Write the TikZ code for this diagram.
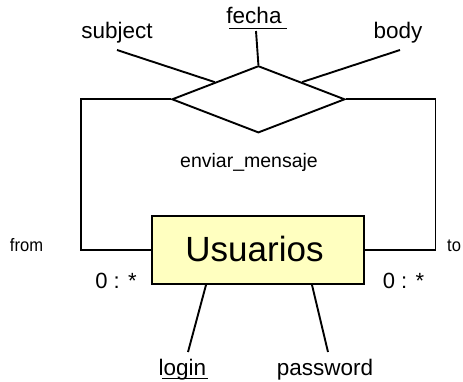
\documentclass[tikz,border=0pt]{standalone}
\usepackage{fontspec}
\setmainfont{Liberation Sans}
\newfontfamily\rolefont[FakeStretch=0.92]{Liberation Sans}
\usetikzlibrary{shapes.geometric}
\begin{document}
\begin{tikzpicture}[x=1pt,y=-1pt,
  line/.style={line width=1.9pt, black},
  attr/.style={inner sep=0pt, anchor=base, font=\fontsize{22.5}{25}\selectfont},
  role/.style={inner sep=0pt, anchor=base, font=\rolefont\fontsize{18}{20}\selectfont},
  card/.style={inner sep=0pt, anchor=base, font=\fontsize{22}{25}\selectfont},
  relation/.style={diamond, draw, line width=1.9pt, inner sep=0pt,
    minimum width=173pt, minimum height=67pt, aspect=2.58},
  entity/.style={rectangle, draw, line width=1.9pt, fill={rgb,255:red,255;green,255;blue,192},
    minimum width=212pt, minimum height=68pt, inner sep=0pt}]
\useasboundingbox (0,0) rectangle (463,381);

% relationship and entity
\node[relation] (rel) at (258.4,99.3) {};
\node[entity] (usr) at (258,250) {};
\node[inner sep=0pt, anchor=base, font=\fontsize{35}{40}\selectfont] (usrlabel) at (254.5,261.5) {Usuarios};
\node[inner sep=0pt, anchor=base, font=\fontsize{19.5}{22}\selectfont] (relname) at (249,167) {enviar\_mensaje};

% attributes of the relationship
\node[attr] (subject) at (117,38.5) {subject};
\node[attr] (fecha) at (254,23) {fecha};
\node[attr] (body) at (398,38.5) {body};
\coordinate (subjectend) at (117,50);
\coordinate (bodyend) at (400,50);
\coordinate (fechaend) at (256,31);
\draw[line] (subjectend) -- (rel.north west);
\draw[line] (bodyend) -- (rel.north east);
\draw[line] (fechaend) -- (rel.north);
\draw[line width=1pt] (229,28) -- (287,28);

% roles from / to
\draw[line] (rel.west) -- ++(-89.7,0) coordinate (lc) |- (usr.west);
\draw[line] (rel.east) -- ++(89.6,0) coordinate (rc) |- (usr.east);
\node[role] (from) at (26.5,251) {from};
\node[role, anchor=base west] (to) at (447,251) {to};
\node[card] (cardl) at (116,288) {0 : *};
\node[card] (cardr) at (403.5,288) {0 : *};

% attributes of the entity
\node[attr] (login) at (182.5,375) {login};
\node[attr] (password) at (325,375) {password};
\coordinate (loginend) at (188,352);
\coordinate (passend) at (328,352);
\draw[line] ([xshift=-52pt]usr.south) -- (loginend);
\draw[line] ([xshift=54pt]usr.south) -- (passend);
\draw[line width=1pt] (162,378.5) -- (208,378.5);
\end{tikzpicture}
\end{document}
